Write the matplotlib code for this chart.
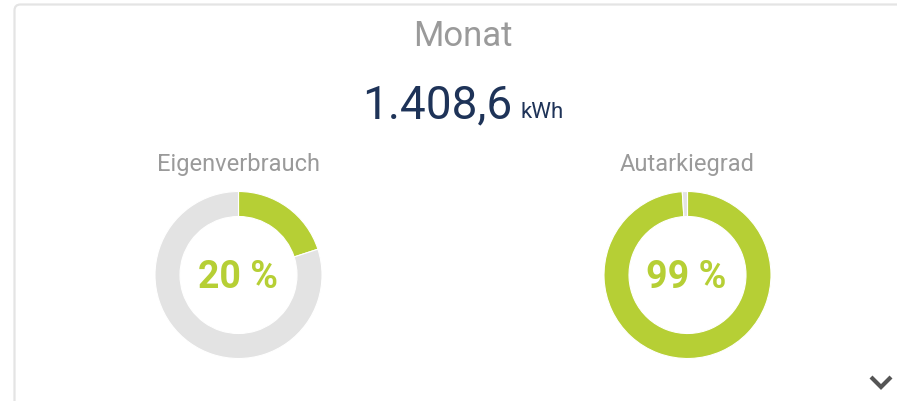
import matplotlib.pyplot as plt
from matplotlib.patches import FancyBboxPatch

# Data
title = 'Monat'
energy_value = '1.408,6'
energy_unit = 'kWh'
gauge_labels = ['Eigenverbrauch', 'Autarkiegrad']
gauge_percent = [20, 99]

# Colours
green = '#b6cf35'
light_gray = '#e3e3e3'
text_gray = '#9a9a9a'
navy = '#1e3358'

W, H = 897, 401
plt.rcParams['font.family'] = ['Roboto', 'DejaVu Sans']

fig = plt.figure(figsize=(W / 100, H / 100), dpi=100)
ax = fig.add_axes([0, 0, 1, 1])

def py(y):
    # screen y (from top) -> data y
    return H - y

# Card outline
card = FancyBboxPatch((14.5, py(440)), 920, 435.5,
                      boxstyle='round,pad=0,rounding_size=6',
                      facecolor='white', edgecolor='#e4e4e4', linewidth=1.6, zorder=0)
ax.add_patch(card)

ax.text(463, py(36), title, ha='center', va='center', fontsize=25, color=text_gray)
ax.text(512, py(118), energy_value, ha='right', va='baseline', fontsize=33, color=navy)
ax.text(521, py(118), energy_unit, ha='left', va='baseline', fontsize=16, color=navy)

centers_x = [238.5, 687.5]
center_y = 275
for cx, label, pct in zip(centers_x, gauge_labels, gauge_percent):
    ax.pie([pct, 100 - pct], radius=83.5, center=(cx, py(center_y)),
           startangle=90, counterclock=False, colors=[green, light_gray],
           wedgeprops=dict(width=25, edgecolor='white', linewidth=0.8), frame=True)
    ax.text(cx, py(165), label, ha='center', va='center', fontsize=17, color=text_gray)
    ax.text(cx - 1, py(278), f'{pct} %', ha='center', va='center', fontsize=27,
            fontweight='bold', color=green)

# Expand chevron
ax.plot([871, 881, 891], [py(377), py(387), py(377)], color='#555555',
        linewidth=3, solid_capstyle='butt', solid_joinstyle='miter')

ax.set_xlim(0, W)
ax.set_ylim(0, H)
ax.set_aspect('auto')
ax.axis('off')

fig.savefig('out.png', dpi=100)
